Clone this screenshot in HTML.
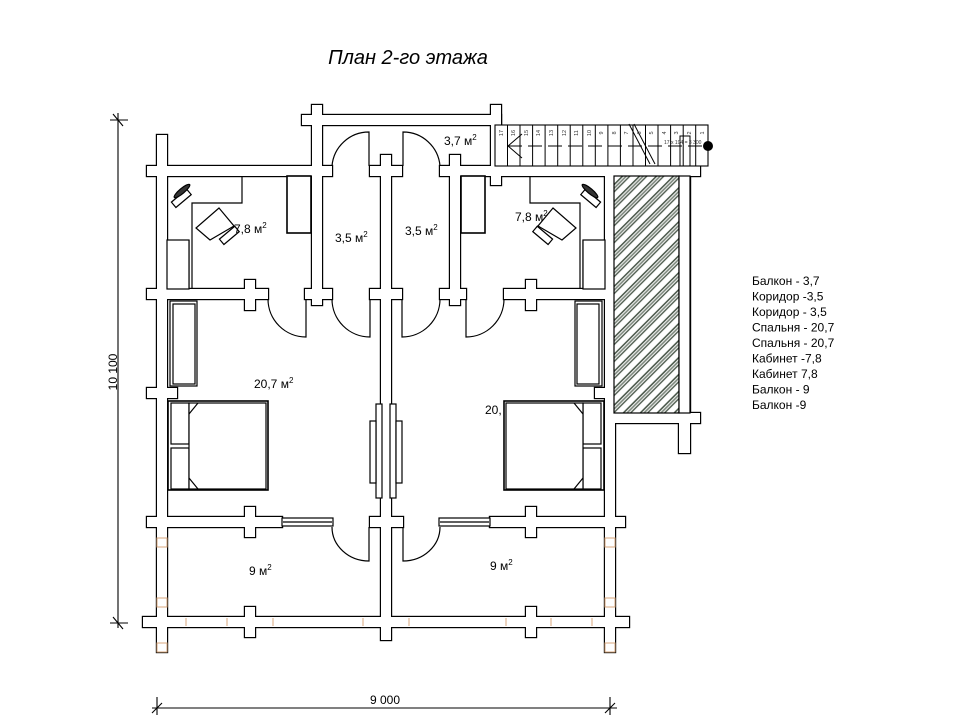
<!DOCTYPE html>
<html><head><meta charset="utf-8"><style>
html,body{margin:0;padding:0;background:#fff;}
svg{display:block;font-family:"Liberation Sans",sans-serif;}
</style></head><body>
<svg width="975" height="726" viewBox="0 0 975 726" xmlns="http://www.w3.org/2000/svg">
<defs>
<pattern id="h" patternUnits="userSpaceOnUse" width="12" height="12" patternTransform="rotate(-45)">
<rect width="12" height="12" fill="#fff"/>
<rect x="0" y="0" width="12" height="1.6" fill="#4d5a4d"/>
<rect x="0" y="2.6" width="12" height="1.6" fill="#7a857a"/>
<rect x="0" y="5.2" width="12" height="1.4" fill="#4d5a4d"/>
</pattern>
<g id="walls">
<rect x="157" y="135" width="10" height="517"/>
<rect x="147" y="166" width="185" height="10"/>
<rect x="312" y="105" width="10" height="200"/>
<rect x="302" y="115" width="199" height="10"/>
<rect x="370" y="166" width="32" height="10"/>
<rect x="381" y="155" width="10" height="485"/>
<rect x="450" y="155" width="10" height="150"/>
<rect x="491" y="105" width="10" height="80"/>
<rect x="440" y="166" width="260" height="10"/>
<rect x="147" y="289" width="121" height="10"/>
<rect x="245" y="280" width="10" height="30"/>
<rect x="305" y="289" width="27" height="10"/>
<rect x="370" y="289" width="32" height="10"/>
<rect x="440" y="289" width="26" height="10"/>
<rect x="504" y="289" width="121" height="10"/>
<rect x="526" y="280" width="10" height="30"/>
<rect x="605" y="176" width="10" height="476"/>
<rect x="147" y="388" width="30" height="10"/>
<rect x="595" y="388" width="30" height="10"/>
<rect x="147" y="517" width="135" height="10"/>
<rect x="245" y="507" width="10" height="30"/>
<rect x="370" y="517" width="33" height="10"/>
<rect x="490" y="517" width="135" height="10"/>
<rect x="526" y="507" width="10" height="30"/>
<rect x="143" y="617" width="486" height="10"/>
<rect x="245" y="607" width="10" height="30"/>
<rect x="526" y="607" width="10" height="30"/>
<rect x="614" y="413" width="86" height="10"/>
<rect x="679" y="423" width="11" height="30"/>
<rect x="679" y="176" width="11" height="237"/>
</g>
<g id="furn">
<polyline points="242,176 242,203 192,203 192,289" fill="none"/>
<line x1="189" y1="240" x2="189" y2="289"/>
<rect x="167" y="240" width="22" height="49" fill="#fff"/>
<rect x="287" y="176" width="24" height="57" fill="#fff" stroke-width="1.6"/>
<polygon points="219,208 234,226 210,240 196,228" fill="#fff"/>
<rect x="226" y="225" width="7" height="20" transform="rotate(50 229 235)" fill="#fff"/>
<rect x="178" y="188" width="7" height="20" transform="rotate(50 181 198)" fill="#fff"/>
<ellipse cx="182" cy="191" rx="2.5" ry="10" transform="rotate(50 182 191)" fill="#333"/>
<rect x="170" y="301" width="27" height="85" fill="#fff"/>
<rect x="173" y="304" width="22" height="80" fill="none"/>
<rect x="168" y="401" width="100" height="89" fill="#fff" stroke-width="1.6"/>
<rect x="171" y="403" width="18" height="41" fill="#fff"/>
<rect x="171" y="448" width="18" height="41" fill="#fff"/>
<rect x="189" y="403" width="77" height="86" fill="#fff"/>
<line x1="189" y1="414" x2="198" y2="403"/>
<line x1="189" y1="478" x2="198" y2="489"/>
<rect x="376" y="404" width="6" height="94" fill="#fff"/>
<rect x="370" y="421" width="6" height="62" fill="#fff"/>
<rect x="282" y="518" width="51" height="8" fill="#fff"/>
<line x1="283" y1="522" x2="332" y2="522"/>
<path d="M369,166 V132 A37,37 0 0 0 332,166" fill="none"/>
<path d="M306,299 V337 A38,38 0 0 1 268,299" fill="none"/>
<path d="M370,299 V337 A38,38 0 0 1 332,299" fill="none"/>
<path d="M369,527 V561 A37,34 0 0 1 332,527" fill="none"/>
</g>
</defs>

<text x="408" y="64" font-size="20" font-style="italic" text-anchor="middle">План 2-го этажа</text>

<g fill="#fff" stroke="#000" stroke-width="2.4"><use href="#walls"/></g>
<g fill="#fff" stroke="none"><use href="#walls"/></g>

<rect x="614" y="176" width="65" height="237" fill="url(#h)" stroke="#000" stroke-width="1.2"/>
<rect x="679" y="176" width="11" height="237" fill="#fff" stroke="#000" stroke-width="1.2"/>

<g stroke="#000" stroke-width="1.2" fill="none"><use href="#furn"/></g>
<g stroke="#000" stroke-width="1.2" fill="none" transform="translate(772,0) scale(-1,1)"><use href="#furn"/></g>

<g stroke="#d9a77c" stroke-width="1" fill="none">
<rect x="157" y="538" width="10" height="9"/><rect x="157" y="598" width="10" height="9"/><rect x="157" y="643" width="10" height="9"/>
<rect x="605" y="538" width="10" height="9"/><rect x="605" y="598" width="10" height="9"/><rect x="605" y="643" width="10" height="9"/>
<line x1="186" y1="618" x2="186" y2="626"/><line x1="227" y1="618" x2="227" y2="626"/><line x1="273" y1="618" x2="273" y2="626"/>
<line x1="363" y1="618" x2="363" y2="626"/><line x1="409" y1="618" x2="409" y2="626"/><line x1="506" y1="618" x2="506" y2="626"/>
<line x1="551" y1="618" x2="551" y2="626"/><line x1="592" y1="618" x2="592" y2="626"/>
</g>

<g stroke="#000" stroke-width="1.1" fill="#fff">
<rect x="495" y="125" width="213" height="41"/>
</g>
<g stroke="#000" stroke-width="1">
<line x1="507.5" y1="125" x2="507.5" y2="166"/><line x1="520" y1="125" x2="520" y2="166"/><line x1="532.6" y1="125" x2="532.6" y2="166"/><line x1="545.1" y1="125" x2="545.1" y2="166"/><line x1="557.7" y1="125" x2="557.7" y2="166"/><line x1="570.2" y1="125" x2="570.2" y2="166"/><line x1="582.8" y1="125" x2="582.8" y2="166"/><line x1="595.3" y1="125" x2="595.3" y2="166"/><line x1="607.9" y1="125" x2="607.9" y2="166"/><line x1="620.4" y1="125" x2="620.4" y2="166"/><line x1="633" y1="125" x2="633" y2="166"/><line x1="645.5" y1="125" x2="645.5" y2="166"/><line x1="658" y1="125" x2="658" y2="166"/><line x1="670.6" y1="125" x2="670.6" y2="166"/><line x1="683.2" y1="125" x2="683.2" y2="166"/><line x1="695.7" y1="125" x2="695.7" y2="166"/>
<line x1="508" y1="146" x2="705" y2="146" stroke-dasharray="14,6"/>
<polyline points="522,134 508,146 522,158" fill="none"/>
<line x1="634" y1="124" x2="655" y2="164"/><line x1="629" y1="124" x2="650" y2="164"/>
<rect x="680" y="136" width="10" height="30" fill="none"/>
</g>
<circle cx="708" cy="146" r="5" fill="#000"/>
<g font-size="5" fill="#333">
<text x="664" y="144">17 x 194 = 3 300</text>
</g>
<g font-size="5.5" fill="#333" text-anchor="middle">
<text transform="translate(503,133) rotate(-90)">17</text><text transform="translate(515,133) rotate(-90)">16</text><text transform="translate(528,133) rotate(-90)">15</text><text transform="translate(540,133) rotate(-90)">14</text><text transform="translate(553,133) rotate(-90)">13</text><text transform="translate(566,133) rotate(-90)">12</text><text transform="translate(578,133) rotate(-90)">11</text><text transform="translate(591,133) rotate(-90)">10</text><text transform="translate(603,133) rotate(-90)">9</text><text transform="translate(616,133) rotate(-90)">8</text><text transform="translate(628,133) rotate(-90)">7</text><text transform="translate(641,133) rotate(-90)">6</text><text transform="translate(653,133) rotate(-90)">5</text><text transform="translate(666,133) rotate(-90)">4</text><text transform="translate(678,133) rotate(-90)">3</text><text transform="translate(691,133) rotate(-90)">2</text><text transform="translate(704,133) rotate(-90)">1</text>
</g>

<g font-size="12" fill="#000">
<text x="234" y="233">7,8 м<tspan font-size="8" dy="-5">2</tspan></text>
<text x="515" y="221">7,8 м<tspan font-size="8" dy="-5">2</tspan></text>
<text x="335" y="242">3,5 м<tspan font-size="8" dy="-5">2</tspan></text>
<text x="405" y="235">3,5 м<tspan font-size="8" dy="-5">2</tspan></text>
<text x="444" y="145">3,7 м<tspan font-size="8" dy="-5">2</tspan></text>
<text x="254" y="388">20,7 м<tspan font-size="8" dy="-5">2</tspan></text>
<text x="485" y="414">20,</text>
<text x="249" y="575">9 м<tspan font-size="8" dy="-5">2</tspan></text>
<text x="490" y="570">9 м<tspan font-size="8" dy="-5">2</tspan></text>
</g>

<g stroke="#000" stroke-width="1.1">
<line x1="118" y1="113" x2="118" y2="628"/>
<line x1="110" y1="120" x2="128" y2="120"/><line x1="113" y1="114" x2="123" y2="126"/>
<line x1="110" y1="623" x2="128" y2="623"/><line x1="113" y1="617" x2="123" y2="629"/>
<line x1="157" y1="697" x2="157" y2="715"/><line x1="152" y1="708" x2="617" y2="708"/>
<line x1="610" y1="697" x2="610" y2="715"/>
<line x1="152" y1="713" x2="162" y2="703"/><line x1="605" y1="713" x2="615" y2="703"/>
</g>
<text x="385" y="704" font-size="12" text-anchor="middle">9 000</text>
<text transform="translate(117,372) rotate(-90)" font-size="12" text-anchor="middle">10 100</text>

<g font-size="12" fill="#000">
<text x="752" y="285">Балкон - 3,7</text>
<text x="752" y="300.5">Коридор -3,5</text>
<text x="752" y="316">Коридор - 3,5</text>
<text x="752" y="331.5">Спальня - 20,7</text>
<text x="752" y="347">Спальня - 20,7</text>
<text x="752" y="362.5">Кабинет -7,8</text>
<text x="752" y="378">Кабинет 7,8</text>
<text x="752" y="393.5">Балкон - 9</text>
<text x="752" y="409">Балкон -9</text>
</g>
</svg>
</body></html>
